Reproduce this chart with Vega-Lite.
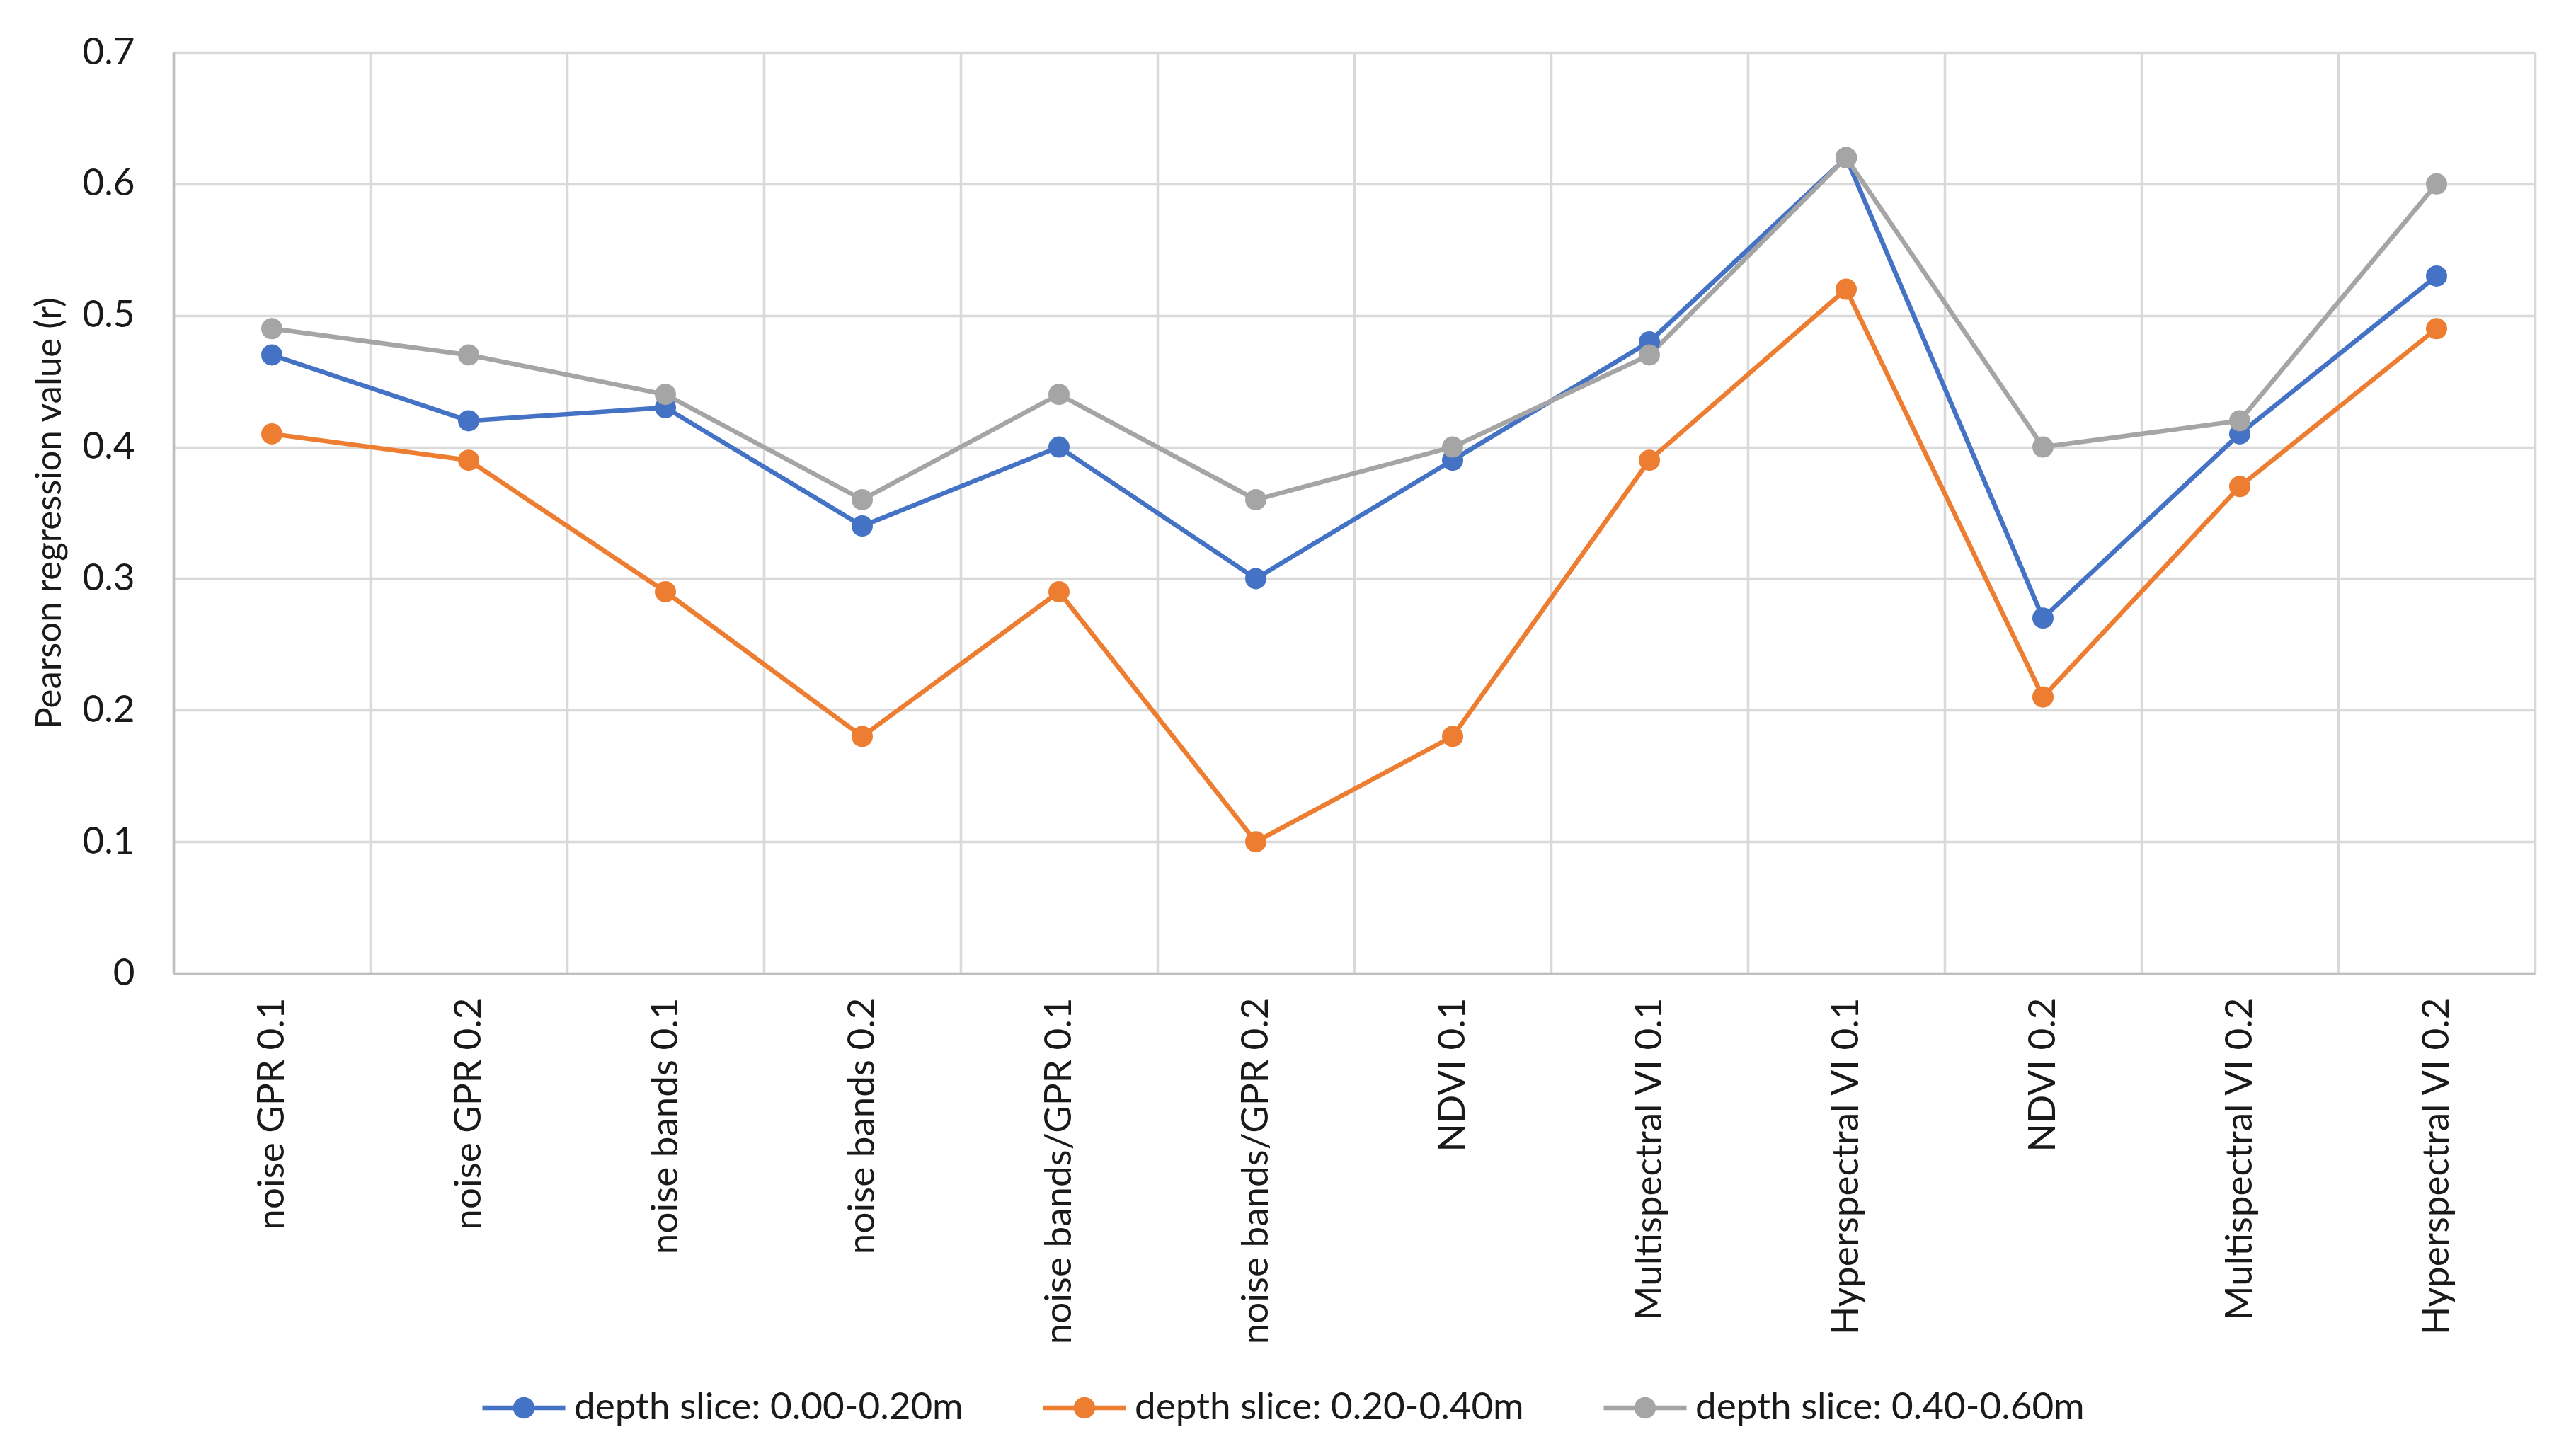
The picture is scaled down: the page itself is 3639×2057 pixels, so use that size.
{
  "$schema": "https://vega.github.io/schema/vega-lite/v6.json",
  "description": "Pearson regression by data source and depth slice",
  "autosize": {"type": "none"},
  "padding": {"left": 245, "top": 74, "right": 58, "bottom": 682},
  "width": 3336,
  "height": 1301,
  "background": "#ffffff",
  "config": {
    "font": "Lato",
    "view": {"stroke": null}
  },
  "data": {
    "values": [
      {"source": "noise GPR 0.1", "slice": "depth slice: 0.00-0.20m", "r": 0.47},
      {"source": "noise GPR 0.2", "slice": "depth slice: 0.00-0.20m", "r": 0.42},
      {"source": "noise bands 0.1", "slice": "depth slice: 0.00-0.20m", "r": 0.43},
      {"source": "noise bands 0.2", "slice": "depth slice: 0.00-0.20m", "r": 0.34},
      {"source": "noise bands/GPR 0.1", "slice": "depth slice: 0.00-0.20m", "r": 0.40},
      {"source": "noise bands/GPR 0.2", "slice": "depth slice: 0.00-0.20m", "r": 0.30},
      {"source": "NDVI 0.1", "slice": "depth slice: 0.00-0.20m", "r": 0.39},
      {"source": "Multispectral VI 0.1", "slice": "depth slice: 0.00-0.20m", "r": 0.48},
      {"source": "Hyperspectral VI 0.1", "slice": "depth slice: 0.00-0.20m", "r": 0.62},
      {"source": "NDVI 0.2", "slice": "depth slice: 0.00-0.20m", "r": 0.27},
      {"source": "Multispectral VI 0.2", "slice": "depth slice: 0.00-0.20m", "r": 0.41},
      {"source": "Hyperspectral VI 0.2", "slice": "depth slice: 0.00-0.20m", "r": 0.53},
      {"source": "noise GPR 0.1", "slice": "depth slice: 0.20-0.40m", "r": 0.41},
      {"source": "noise GPR 0.2", "slice": "depth slice: 0.20-0.40m", "r": 0.39},
      {"source": "noise bands 0.1", "slice": "depth slice: 0.20-0.40m", "r": 0.29},
      {"source": "noise bands 0.2", "slice": "depth slice: 0.20-0.40m", "r": 0.18},
      {"source": "noise bands/GPR 0.1", "slice": "depth slice: 0.20-0.40m", "r": 0.29},
      {"source": "noise bands/GPR 0.2", "slice": "depth slice: 0.20-0.40m", "r": 0.10},
      {"source": "NDVI 0.1", "slice": "depth slice: 0.20-0.40m", "r": 0.18},
      {"source": "Multispectral VI 0.1", "slice": "depth slice: 0.20-0.40m", "r": 0.39},
      {"source": "Hyperspectral VI 0.1", "slice": "depth slice: 0.20-0.40m", "r": 0.52},
      {"source": "NDVI 0.2", "slice": "depth slice: 0.20-0.40m", "r": 0.21},
      {"source": "Multispectral VI 0.2", "slice": "depth slice: 0.20-0.40m", "r": 0.37},
      {"source": "Hyperspectral VI 0.2", "slice": "depth slice: 0.20-0.40m", "r": 0.49},
      {"source": "noise GPR 0.1", "slice": "depth slice: 0.40-0.60m", "r": 0.49},
      {"source": "noise GPR 0.2", "slice": "depth slice: 0.40-0.60m", "r": 0.47},
      {"source": "noise bands 0.1", "slice": "depth slice: 0.40-0.60m", "r": 0.44},
      {"source": "noise bands 0.2", "slice": "depth slice: 0.40-0.60m", "r": 0.36},
      {"source": "noise bands/GPR 0.1", "slice": "depth slice: 0.40-0.60m", "r": 0.44},
      {"source": "noise bands/GPR 0.2", "slice": "depth slice: 0.40-0.60m", "r": 0.36},
      {"source": "NDVI 0.1", "slice": "depth slice: 0.40-0.60m", "r": 0.40},
      {"source": "Multispectral VI 0.1", "slice": "depth slice: 0.40-0.60m", "r": 0.47},
      {"source": "Hyperspectral VI 0.1", "slice": "depth slice: 0.40-0.60m", "r": 0.62},
      {"source": "NDVI 0.2", "slice": "depth slice: 0.40-0.60m", "r": 0.40},
      {"source": "Multispectral VI 0.2", "slice": "depth slice: 0.40-0.60m", "r": 0.42},
      {"source": "Hyperspectral VI 0.2", "slice": "depth slice: 0.40-0.60m", "r": 0.60}
    ]
  },
  "mark": {
    "type": "line",
    "strokeWidth": 6.5,
    "point": {"filled": true, "size": 900, "opacity": 1}
  },
  "encoding": {
    "x": {
      "field": "source",
      "type": "nominal",
      "sort": null,
      "bandPosition": 0.5,
      "title": null,
      "scale": {"type": "band", "paddingInner": 0, "paddingOuter": 0},
      "axis": {
        "tickBand": "extent",
        "ticks": false,
        "grid": true,
        "gridColor": "#d9d9d9",
        "gridWidth": 3.5,
        "domainColor": "#bfbfbf",
        "domainWidth": 3.5,
        "labelAngle": -90,
        "labelFontSize": 53,
        "labelColor": "#1a1a1a",
        "labelPadding": 34,
        "labelLimit": 0
      }
    },
    "y": {
      "field": "r",
      "type": "quantitative",
      "title": "Pearson regression value (r)",
      "scale": {"domain": [0, 0.7], "nice": false},
      "axis": {
        "values": [0, 0.1, 0.2, 0.3, 0.4, 0.5, 0.6, 0.7],
        "format": ".1~f",
        "ticks": false,
        "grid": true,
        "gridColor": "#d9d9d9",
        "gridWidth": 3.5,
        "domainColor": "#bfbfbf",
        "domainWidth": 3.5,
        "labelFontSize": 53,
        "labelColor": "#1a1a1a",
        "labelPadding": 55,
        "titleFontSize": 51,
        "titleFontWeight": "normal",
        "titleColor": "#1a1a1a",
        "titlePadding": 20
      }
    },
    "color": {
      "field": "slice",
      "type": "nominal",
      "scale": {
        "domain": ["depth slice: 0.00-0.20m", "depth slice: 0.20-0.40m", "depth slice: 0.40-0.60m"],
        "range": ["#4472c4", "#ed7d31", "#a5a5a5"]
      },
      "legend": {
        "orient": "none",
        "legendX": 436,
        "legendY": 1856,
        "direction": "horizontal",
        "title": null,
        "symbolType": "M-1,-0.055L1,-0.055L1,0.055L-1,0.055Z M-0.26,0A0.26,0.26 0 1,1 0.26,0A0.26,0.26 0 1,1 -0.26,0Z",
        "symbolSize": 13700,
        "symbolStrokeWidth": 0,
        "labelFontSize": 53,
        "labelColor": "#1a1a1a",
        "labelLimit": 0,
        "labelOffset": 12,
        "columnPadding": 112,
        "encode": {
          "symbols": {
            "update": {
              "fill": {"scale": "color", "field": "value"},
              "fillOpacity": {"value": 1},
              "opacity": {"value": 1}
            }
          }
        }
      }
    }
  }
}
